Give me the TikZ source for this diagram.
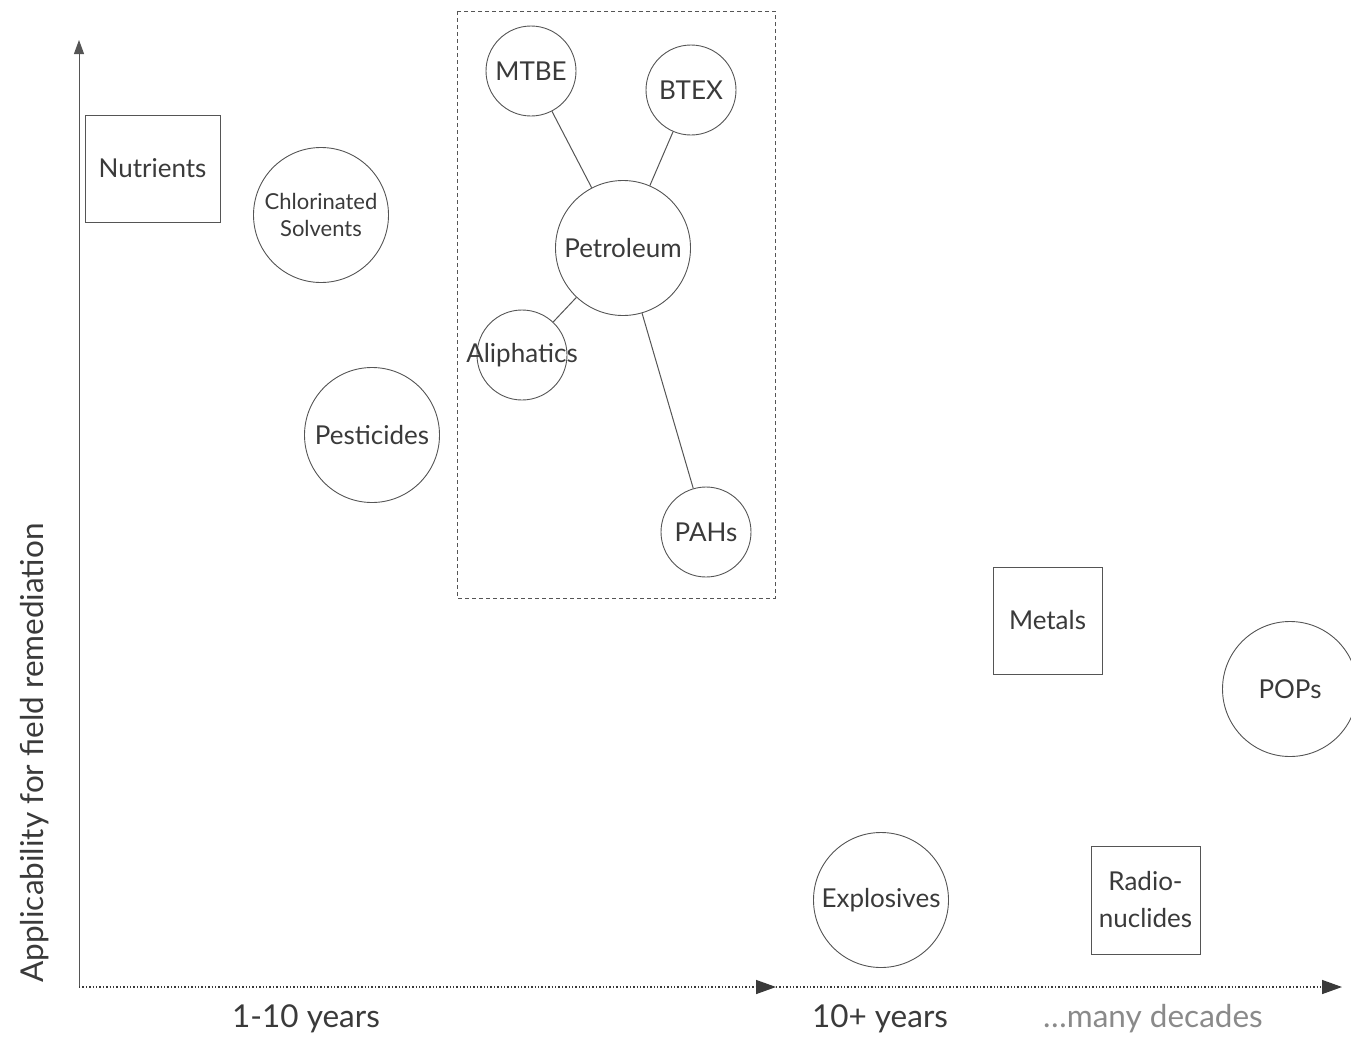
\documentclass[tikz,border=0pt]{standalone}
\usepackage{fontspec}
\setmainfont{Lato}
\usetikzlibrary{arrows.meta}

\definecolor{inkgray}{HTML}{555555}
\definecolor{txtgray}{HTML}{3A3A3A}
\definecolor{faintgray}{HTML}{8A8A8A}

\tikzset{
  bigcirc/.style={circle, draw=inkgray, line width=0.9pt, minimum size=135pt, inner sep=0pt, text=txtgray, font=\fontsize{26}{31}\selectfont},
  smallcirc/.style={bigcirc, minimum size=90pt},
  groupbox/.style={rectangle, draw=inkgray, line width=0.9pt, inner sep=0pt, text=txtgray, align=center, font=\fontsize{26}{37}\selectfont},
  link/.style={draw=inkgray, line width=1pt},
  axislbl/.style={text=txtgray, font=\fontsize{31.5}{36}\selectfont}
}

\begin{document}
\begin{tikzpicture}[x=1pt, y=-1pt]
\useasboundingbox (0,0) rectangle (1351,1044);
\clip (0,0) rectangle (1351,1044);

% axes
\coordinate (O) at (79,987);
\coordinate (ytop) at (79,40);
\coordinate (xmid) at (776,987);
\coordinate (xend) at (1342,987);
\draw[inkgray, line width=1pt, -{Triangle[length=14pt,width=10pt]}] (O) -- (ytop);
\draw[txtgray, line width=1.4pt, dash pattern=on 1.4pt off 2pt, -{Triangle[length=20pt,width=14pt]}] (O) -- (xmid);
\draw[txtgray, line width=1.4pt, dash pattern=on 1.4pt off 2pt, -{Triangle[length=20pt,width=14pt]}] (xmid) -- (xend);

\node[axislbl] (short) at (306,1019) {1-10 years};
\node[axislbl] (long) at (880,1019) {10+ years};
\node[axislbl, text=faintgray] (decades) at (1153,1019) {\ldots many decades};
\node[axislbl, rotate=90] (ylbl) at (35,753) {Applicability for field remediation};

% left group
\node[groupbox, minimum width=135pt, minimum height=107pt] (nutr) at (152.5,168.5) {Nutrients};
\node[bigcirc, align=center, font=\fontsize{22}{27}\selectfont] (chlor) at (321,215) {Chlorinated\\Solvents};
\node[bigcirc] (pest) at (372,435) {Pesticides};

% Petroleum group
\draw[inkgray, line width=1pt, dash pattern=on 4pt off 3pt] (457,11) rectangle (775,598);
\node[bigcirc] (petro) at (623,248) {Petroleum};
\node[smallcirc] (mtbe) at (531,71) {MTBE};
\node[smallcirc] (btex) at (691,90) {BTEX};
\node[smallcirc] (aliph) at (522,355) {\makebox[0pt]{Aliphatics}};
\node[smallcirc] (pahs) at (706,532) {PAHs};
\draw[link] (mtbe) -- (petro);
\draw[link] (btex) -- (petro);
\draw[link] (aliph) -- (petro);
\draw[link] (pahs) -- (petro);

% persistent ones
\node[groupbox, minimum width=109pt, minimum height=107pt] (metals) at (1047.5,620.5) {Metals};
\node[bigcirc] (pops) at (1290,689) {POPs};
\node[bigcirc] (expl) at (881,900) {Explosives};
\node[groupbox, minimum width=109pt, minimum height=108pt] (radio) at (1145.5,900) {Radio-\\nuclides};

\end{tikzpicture}
\end{document}
